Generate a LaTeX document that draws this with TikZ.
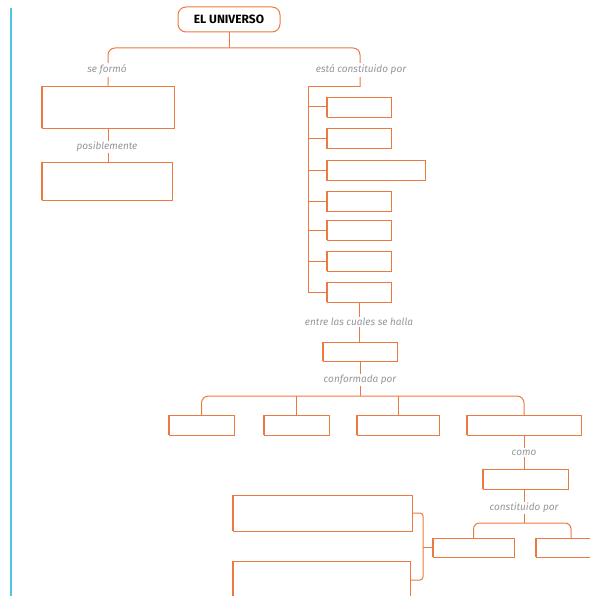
\documentclass[tikz,border=0pt]{standalone}
\usepackage{fontspec}
\setsansfont{Fira Sans}
\usepackage{tikz}
\usepackage{xcolor}
\definecolor{uorange}{RGB}{236,122,64}
\definecolor{ugray}{RGB}{150,150,158}
\definecolor{ucyan}{RGB}{80,198,222}
\tikzset{
    side/.style = {draw=uorange, line width=1.1pt},
    sketch-box/.style = {draw=uorange, line width=0.5pt, fill=white, inner sep=0pt,
        append after command={\pgfextra{\let\thisbox\tikzlastnode}
            (\thisbox.north west) edge[side] (\thisbox.south west)
            (\thisbox.north east) edge[side] (\thisbox.south east)}},
    title-box/.style = {draw=uorange, line width=1pt, rounded corners=8pt, inner sep=0pt,
        minimum width=102, minimum height=25, font=\sffamily\bfseries\fontsize{12}{14}\selectfont},
    link/.style = {draw=uorange, line width=1pt},
    tag/.style = {fill=white, text=ugray, inner sep=1.5pt, font=\sffamily\itshape\fontsize{10}{12}\selectfont},
}

\begin{document}
\begin{tikzpicture}[x=1pt, y=-1pt]
\useasboundingbox (0,0) rectangle (589,596);
\draw[ucyan, line width=1.6pt] (11,8) -- (11,596);

% title
\node[title-box] (univ) at (229,19.5) {EL UNIVERSO};

% left branch
\node[sketch-box, minimum width=132, minimum height=42] (origen) at (108,107) {};
\node[sketch-box, minimum width=130, minimum height=38] (teoria) at (107,181) {};

% right column
\node[sketch-box, minimum width=64, minimum height=20] (cuerpo1) at (359,107) {};
\node[sketch-box, minimum width=64, minimum height=20] (cuerpo2) at (359,138.5) {};
\node[sketch-box, minimum width=98, minimum height=20] (cuerpo3) at (376,170.5) {};
\node[sketch-box, minimum width=64, minimum height=20] (cuerpo4) at (359,201.5) {};
\node[sketch-box, minimum width=64, minimum height=20] (cuerpo5) at (359,230) {};
\node[sketch-box, minimum width=64, minimum height=20] (cuerpo6) at (359,261) {};
\node[sketch-box, minimum width=64, minimum height=20] (cuerpo7) at (359,292) {};

\node[sketch-box, minimum width=74, minimum height=19] (galaxia) at (360,351.5) {};

% row of parts
\node[sketch-box, minimum width=65, minimum height=20] (parteA) at (201.5,425) {};
\node[sketch-box, minimum width=65, minimum height=20] (parteB) at (296.5,425) {};
\node[sketch-box, minimum width=82, minimum height=20] (parteC) at (398,425) {};
\node[sketch-box, minimum width=114, minimum height=20] (parteD) at (524,425) {};

\node[sketch-box, minimum width=85, minimum height=20] (sistema) at (525.5,479) {};
\node[sketch-box, minimum width=81, minimum height=19] (compF) at (473.5,547.5) {};
\node[sketch-box, minimum width=70, minimum height=19] (compG) at (571,547.5) {};

\node[sketch-box, minimum width=179, minimum height=36] (notaH) at (322.5,513) {};
\node[sketch-box, minimum width=177, minimum height=38] (notaI) at (321.5,580) {};

% connectors
\coordinate (hub) at (229,48);
\coordinate (turn) at (360,87);
\coordinate (trunk) at (308,87);
\coordinate (trunk-end) at (308,292);
\draw[link] (univ.south) -- (hub);
\draw[link, rounded corners=7pt] (hub) -| (origen.north);
\draw[link, rounded corners=7pt] (hub) -| (turn);
\draw[link] (turn) -- (trunk) -- (trunk-end);
\draw[link] (origen.south) -- (teoria.north -| origen.south);
\foreach \c in {cuerpo1,cuerpo2,cuerpo3,cuerpo4,cuerpo5,cuerpo6,cuerpo7}
    \draw[link] (\c.west -| trunk) -- (\c.west);
\draw[link] (cuerpo7.south) -- (galaxia.north -| cuerpo7.south);

\coordinate (bar) at (360,396);
\draw[link] (galaxia.south -| bar) -- (bar);
\draw[link, rounded corners=7pt] (bar) -| (parteA.north);
\draw[link, rounded corners=7pt] (bar) -| (parteD.north);
\draw[link] (parteB.north |- bar) -- (parteB.north);
\draw[link] (parteC.north |- bar) -- (parteC.north);

\draw[link] (parteD.south) -- (sistema.north -| parteD.south);
\coordinate (bar2) at (524,523);
\draw[link] (sistema.south -| bar2) -- (bar2);
\draw[link, rounded corners=6pt] (bar2) -| (compF.north);
\draw[link, rounded corners=6pt] (bar2) -| (compG.north);

\coordinate (brk) at (423,547.5);
\draw[link, rounded corners=3pt] (notaH.east) -| (brk) |- (notaI.east);
\draw[link] (brk) -- (compF.west);

% labels
\node[tag] (l-formo) at (107,70) {se formó};
\node[tag] (l-const) at (361,70) {está constituido por};
\node[tag] (l-posib) at (107,147) {posiblemente};
\node[tag] (l-entre) at (359,322) {entre las cuales se halla};
\node[tag] (l-conf) at (360,380) {conformada por};
\node[tag] (l-como) at (524,452.5) {como};
\node[tag] (l-const2) at (524,508) {constituido por};
\end{tikzpicture}
\end{document}
